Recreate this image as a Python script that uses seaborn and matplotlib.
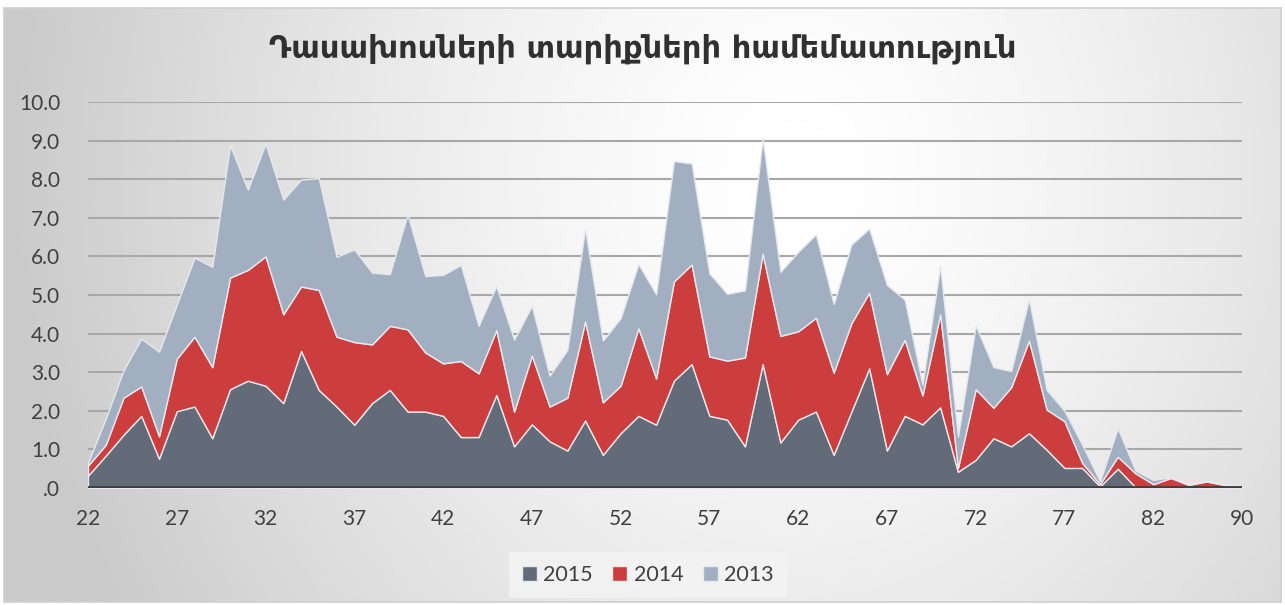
import numpy as np
import pandas as pd
import matplotlib
matplotlib.use('Agg')
import matplotlib.pyplot as plt
from matplotlib.ticker import FuncFormatter
import seaborn as sns

# ages on the category axis (last ones are not contiguous)
ages = list(range(22, 83)) + [83, 84, 85, 87, 90]

y2015 = [0.32, 0.84, 1.38, 1.87, 0.76, 1.99, 2.11, 1.29, 2.56, 2.78,
         2.65, 2.20, 3.55, 2.54, 2.11, 1.64, 2.20, 2.54, 1.98, 1.98,
         1.87, 1.32, 1.32, 2.41, 1.08, 1.65, 1.21, 0.97, 1.75, 0.86,
         1.42, 1.87, 1.64, 2.78, 3.21, 1.87, 1.77, 1.08, 3.21, 1.18,
         1.77, 1.98, 0.86, 1.98, 3.10, 0.97, 1.87, 1.65, 2.09, 0.42,
         0.73, 1.29, 1.08, 1.42, 0.99, 0.52, 0.52, 0.04, 0.50, 0.02,
         0.03, 0.02, 0.02, 0.02, 0.02, 0.02]
y2014 = [0.26, 0.28, 0.96, 0.76, 0.58, 1.36, 1.81, 1.84, 2.89, 2.87,
         3.35, 2.30, 1.67, 2.59, 1.81, 2.14, 1.52, 1.66, 2.13, 1.53,
         1.36, 1.97, 1.65, 1.68, 0.90, 1.78, 0.90, 1.37, 2.56, 1.36,
         1.23, 2.27, 1.20, 2.57, 2.58, 1.54, 1.53, 2.30, 2.86, 2.76,
         2.29, 2.43, 2.13, 2.29, 1.96, 1.98, 1.97, 0.75, 2.41, 0.10,
         1.83, 0.79, 1.53, 2.40, 1.04, 1.21, 0.13, 0.06, 0.31, 0.36,
         0.07, 0.24, 0.06, 0.15, 0.06, 0.01]
y2013 = [0.08, 0.68, 0.71, 1.24, 2.19, 1.40, 2.05, 2.60, 3.43, 2.08,
         2.92, 2.97, 2.77, 2.90, 2.07, 2.40, 1.86, 1.34, 2.98, 1.98,
         2.29, 2.49, 1.23, 1.14, 1.86, 1.29, 0.80, 1.24, 2.41, 1.60,
         1.75, 1.66, 2.18, 3.12, 2.62, 2.15, 1.73, 1.74, 2.98, 1.66,
         2.06, 2.16, 1.78, 2.04, 1.66, 2.31, 1.04, 0.28, 1.26, 0.81,
         1.65, 1.05, 0.42, 1.07, 0.51, 0.27, 0.47, 0.08, 0.74, 0.07,
         0.11, 0.02, 0.04, 0.02, 0.02, 0.02]

series = ['2015', '2014', '2013']
colors = ['#636b79', '#cc3d3d', '#a1afc1']
title = 'Դասախոսների տարիքների համեմատություն'

df = pd.DataFrame({'age': ages, '2015': y2015, '2014': y2014, '2013': y2013})
pos = np.arange(len(df))

sns.set_theme(style='white')
plt.rcParams['font.family'] = ['Lato', 'DejaVu Sans']
txt = '#404040'

fig = plt.figure(figsize=(12.85, 6.05), dpi=100)

# gradient background of the chart area
bg = fig.add_axes([4 / 1285, 3 / 605, 1277 / 1285, 594 / 605], zorder=-5)
gx, gy = np.meshgrid(np.linspace(0, 1, 400), np.linspace(0, 1, 200))
d = np.sqrt(((gx - 0.62) / 0.62) ** 2 + ((gy - 0.72) / 1.5) ** 2)
v = 1 - 0.21 * np.clip(d, 0, 1) ** 1.4
bg.imshow(v, cmap='gray', vmin=0, vmax=1, origin='lower', aspect='auto',
          extent=[0, 1, 0, 1])
bg.set_xticks([])
bg.set_yticks([])
for s in bg.spines.values():
    s.set_color('#d0d0d0')

ax = fig.add_axes([88 / 1285, 117 / 605, 1154 / 1285, 386 / 605])
ax.patch.set_alpha(0)

ax.stackplot(pos, df['2015'], df['2014'], df['2013'], labels=series,
             colors=colors, edgecolor='#e6e9ee', linewidth=1.0, zorder=3)

ax.set_xlim(0, len(df) - 1)
ax.set_ylim(0, 10)
ax.set_yticks(np.arange(0, 11, 1))
ax.yaxis.set_major_formatter(FuncFormatter(lambda v, p: '.0' if v == 0 else f'{v:.1f}'))
ax.set_xticks(pos[::5])
ax.set_xticklabels([str(a) for a in df['age'][::5]])
ax.tick_params(axis='both', length=0, labelsize=15, labelcolor=txt)
ax.tick_params(axis='y', pad=20)
ax.tick_params(axis='x', pad=15)

ax.grid(axis='y', color='#a8a8a8', linewidth=1.5, zorder=1)
ax.set_axisbelow(True)
for s in ax.spines.values():
    s.set_visible(False)
ax.axhline(0, color='#3f3f3f', linewidth=3.5, zorder=4)

fig.text(0.5, 0.92, title, ha='center', va='center', fontsize=22,
         fontweight='bold', color='#303030', family=['DejaVu Sans'])

leg = ax.legend(loc='center', bbox_to_anchor=(0.485, -0.225), ncol=3,
                frameon=True, fontsize=15.5, handlelength=0.7, handleheight=0.7,
                columnspacing=0.9, handletextpad=0.3, borderpad=0.6)
leg.get_frame().set_facecolor('#f4f4f4')
leg.get_frame().set_edgecolor('none')
leg.get_frame().set_alpha(0.8)
for t in leg.get_texts():
    t.set_color(txt)

fig.savefig('out.png', dpi=100)
